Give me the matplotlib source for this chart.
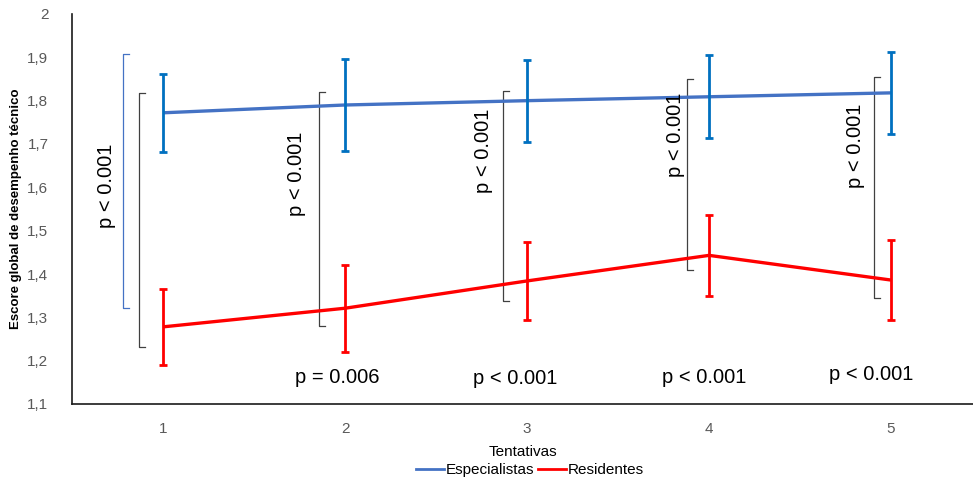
import matplotlib
matplotlib.use("Agg")
import matplotlib.pyplot as plt
from matplotlib.lines import Line2D

# Data
tentativas = [1, 2, 3, 4, 5]
esp_mean = [1.772, 1.790, 1.800, 1.809, 1.818]
esp_err = [0.090, 0.106, 0.095, 0.096, 0.095]
res_mean = [1.278, 1.321, 1.384, 1.443, 1.386]
res_err = [0.088, 0.100, 0.090, 0.094, 0.092]

y_ticks = [1.1, 1.2, 1.3, 1.4, 1.5, 1.6, 1.7, 1.8, 1.9, 2.0]
y_ticklabels = ["1,1", "1,2", "1,3", "1,4", "1,5", "1,6", "1,7", "1,8", "1,9", "2"]

# Brackets between groups (x position, low, high, colour)
br_x = [0.782, 0.868, 1.859, 2.870, 3.877, 4.907]
br_lo = [1.321, 1.232, 1.280, 1.338, 1.409, 1.345]
br_hi = [1.907, 1.818, 1.821, 1.822, 1.849, 1.854]
br_col = ["#4472C4", "#404040", "#404040", "#404040", "#404040", "#404040"]

# Vertical p-value labels (between-group)
pv_x = [0.687, 1.736, 2.758, 3.813, 4.802]
pv_y = [1.603, 1.631, 1.684, 1.721, 1.695]
pv_txt = ["p < 0.001"] * 5

# Horizontal p-value labels (within residents)
ph_x = [1.959, 2.937, 3.973, 4.890]
ph_y = [1.162, 1.158, 1.162, 1.169]
ph_txt = ["p = 0.006", "p < 0.001", "p < 0.001", "p < 0.001"]

plt.rcParams['font.family'] = ['Liberation Sans', 'DejaVu Sans']

fig = plt.figure(figsize=(9.73, 4.84), dpi=100)
ax = fig.add_axes([72/973, 1 - 404/484, 1 - 72/973, (404 - 14)/484])

ax.plot(tentativas, esp_mean, color="#4472C4", lw=2.4, zorder=3, solid_capstyle="butt")
ax.errorbar(tentativas, esp_mean, yerr=esp_err, fmt="none", ecolor="#0070C0",
            elinewidth=2, capsize=3, capthick=2, zorder=4)
ax.plot(tentativas, res_mean, color="#FF0000", lw=2.4, zorder=3, solid_capstyle="butt")
ax.errorbar(tentativas, res_mean, yerr=res_err, fmt="none", ecolor="#FF0000",
            elinewidth=2, capsize=3, capthick=2, zorder=4)

serif = 0.033
for x, lo, hi, c in zip(br_x, br_lo, br_hi, br_col):
    ax.plot([x + serif, x, x, x + serif], [hi, hi, lo, lo], color=c, lw=0.9, zorder=2)

for x, y, t in zip(pv_x, pv_y, pv_txt):
    ax.text(x, y, t, rotation=90, ha="center", va="center", fontsize=14.5, color="black")

for x, y, t in zip(ph_x, ph_y, ph_txt):
    ax.text(x, y, t, ha="center", va="center", fontsize=14.5, color="black")

ax.set_xlim(0.5, 5.45)
ax.set_ylim(1.1, 2.0)
ax.set_xticks(tentativas)
ax.set_xticklabels([str(t) for t in tentativas])
ax.set_yticks(y_ticks)
ax.set_yticklabels(y_ticklabels)
ax.tick_params(axis="both", length=0, labelsize=11, labelcolor="#595959")
ax.tick_params(axis="y", pad=17)
ax.tick_params(axis="x", pad=13)

for s in ["top", "right"]:
    ax.spines[s].set_visible(False)
for s in ["left", "bottom"]:
    ax.spines[s].set_color("#1a1a1a")
    ax.spines[s].set_linewidth(1.2)

ax.set_ylabel("Escore global de desempenho técnico", fontsize=9.5, fontweight="bold")
ax.yaxis.set_label_coords(-0.055, 0.5)
ax.set_xlabel("Tentativas", fontsize=11)
ax.xaxis.set_label_coords(0.5, -0.105)

handles = [Line2D([], [], color="#4472C4", lw=2), Line2D([], [], color="#FF0000", lw=2)]
fig.legend(handles, ["Especialistas", "Residentes"], loc="center",
           bbox_to_anchor=(530/973, 1 - 470/484), ncol=2, frameon=False,
           fontsize=11, handlelength=1.8, handletextpad=0.1, columnspacing=0.3,
           borderpad=0)

fig.savefig("out.png", dpi=100)
